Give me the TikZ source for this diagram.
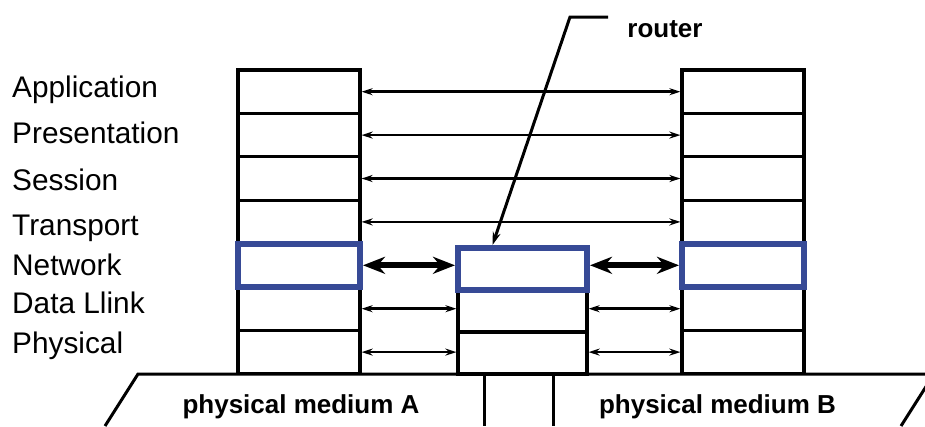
\documentclass[tikz,border=0pt]{standalone}
\usepackage{fontspec}
\setmainfont{Liberation Sans}
\usetikzlibrary{arrows.meta}
\definecolor{netblue}{RGB}{55,74,150}

\begin{document}
\begin{tikzpicture}[x=1pt, y=-1pt,
  layer/.style={draw, line width=3.2pt, minimum width=122pt, minimum height=43.4pt, inner sep=0pt},
  netlayer/.style={layer, draw=netblue, line width=6pt},
  peer/.style={{Stealth[length=11pt,width=7pt]}-{Stealth[length=11pt,width=7pt]}, line width=2.5pt},
  hop/.style={{Stealth[length=22pt,width=17pt]}-{Stealth[length=22pt,width=17pt]}, line width=6pt},
  lbl/.style={anchor=base west, inner sep=0pt, font=\fontsize{29.8}{32}\selectfont},
  blbl/.style={anchor=base, inner sep=0pt, font=\fontsize{26}{30}\selectfont\bfseries}]

\useasboundingbox (0,0) rectangle (925,426);
\clip (0,0) rectangle (925,426);

% layer names
\foreach \name/\txt/\base in {app/Application/97, pre/Presentation/143, ses/Session/190,
    tra/Transport/235, net/Network/275, dll/Data Llink/313, phy/Physical/353}
  \node[lbl] (n-\name) at (12,\base) {\txt};

% end hosts
\foreach \i in {1,...,7} {
  \node[layer] (A\i) at (299,{70+(\i-0.5)*43.4}) {};
  \node[layer] (B\i) at (743,{70+(\i-0.5)*43.4}) {};
}
% router
\foreach \i in {5,6,7}
  \node[layer, minimum width=129pt, minimum height=42pt] (R\i) at (522.5,{248+(\i-4.5)*42}) {};

% network layer
\node[netlayer] (A5n) at (A5) {};
\node[netlayer, minimum width=129pt, minimum height=42pt] (R5n) at (R5) {};
\node[netlayer] (B5n) at (B5) {};

% peer arrows
\foreach \i in {1,2,3,4}
  \draw[peer] (A\i.east) -- (B\i.west);
\foreach \i in {6,7} {
  \draw[peer] (A\i.east) -- (A\i.east -| R\i.west);
  \draw[peer] (B\i.west -| R\i.east) -- (B\i.west);
}
\draw[hop] (A5n.east) -- (A5n.east -| R5n.west);
\draw[hop] (B5n.west -| R5n.east) -- (B5n.west);

% router label
\coordinate (rtop) at (608,17);
\coordinate (rbend) at (570,17);
\node[blbl] (router) at (665,37) {router};
\draw[line width=3pt, -{Stealth[length=13pt,width=8pt]}] (rtop) -- (rbend) -- ([xshift=-30pt]R5n.north);

% physical medium
\begin{scope}[line width=3pt]
\draw (105,426) -- (138,374) -- (935,374);
\draw (484,374) -- (484,426);
\draw (553,374) -- (553,426);
\draw (934,374) -- (901,426);
\end{scope}
\node[blbl] (medA) at (301,413) {physical medium A};
\node[blbl] (medB) at (717.5,413) {physical medium B};

\end{tikzpicture}
\end{document}
